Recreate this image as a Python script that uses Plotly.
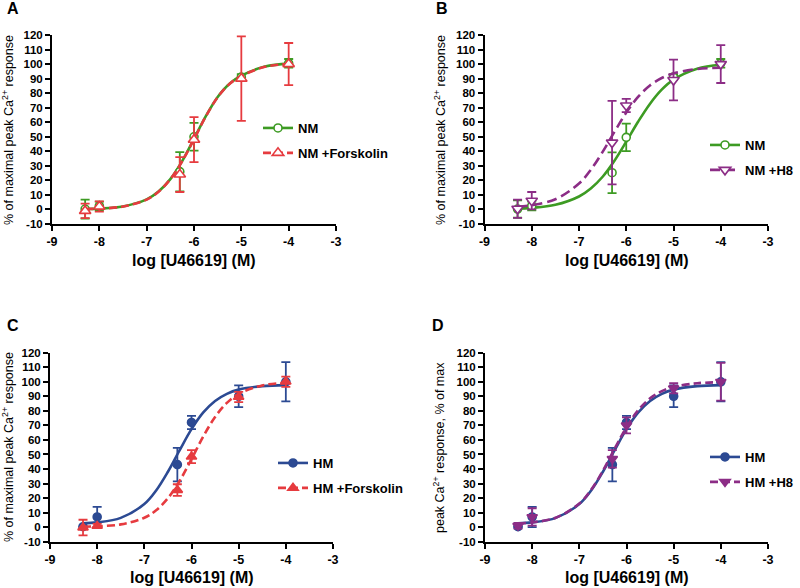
import plotly.graph_objects as go

FONT = "Arial, Liberation Sans, sans-serif"

# ---------------- data ----------------
log_conc = [-8.3, -8.0, -6.3, -6.0, -5.0, -4.0]
fit_x = [-8.3, -8.0, -7.5, -7.0, -6.75, -6.5, -6.25, -6.0, -5.75, -5.5, -5.25, -5.0, -4.5, -4.0]

x_tick_vals = [-9, -8, -7, -6, -5, -4, -3]
x_tick_text = ["-9", "-8", "-7", "-6", "-5", "-4", "-3"]
y_tick_vals = [-10, 0, 10, 20, 30, 40, 50, 60, 70, 80, 90, 100, 110, 120]
y_tick_text = ["-10", "0", "10", "20", "30", "40", "50", "60", "70", "80", "90", "100", "110", "120"]

# Panel A
nm_a_mean = [0.3, 2.4, 26, 50, 91, 100.5]
nm_a_sem = [6.5, 3, 13.5, 9.5, 2, 3]
nm_fsk_mean = [-1, 2, 24, 48, 90, 100]
nm_fsk_sem = [5, 3.5, 12, 15.5, 29, 14.5]
nm_a_fit = [0.3, 0.6, 2.1, 6.9, 12.3, 20.9, 33.3, 48.6, 64.2, 77.4, 86.5, 92.0, 98.3, 100.3]
nm_fsk_fit = [0.3, 0.6, 2.0, 6.8, 12.2, 20.8, 33.1, 48.3, 64.0, 77.2, 86.3, 91.8, 98.1, 100.1]

# Panel B
nm_b_mean = [0.3, 2.4, 25.3, 49.6, 91, 100.5]
nm_b_sem = [6, 3, 14, 9.5, 2, 3]
nm_h8_mean = [0.5, 6, 46, 71.5, 89, 100]
nm_h8_sem = [6.3, 6, 28.7, 4.5, 14, 13]
nm_b_fit = [0.6, 1.1, 3.2, 8.9, 14.4, 22.5, 33.5, 46.6, 60.3, 72.6, 82.4, 89.3, 96.8, 99.5]
nm_h8_fit = [2.0, 3.0, 7.0, 17.8, 27.3, 39.6, 53.4, 66.6, 77.4, 85.3, 90.4, 93.6, 96.6, 97.5]

# Panel C
hm_mean = [0.3, 7, 43, 72, 90, 100]
hm_sem = [0, 7, 11.5, 4.5, 7.5, 13.5]
hm_fsk_mean = [-0.3, 0.8, 25.5, 48.5, 89.5, 100]
hm_fsk_sem = [5.4, 1.5, 4, 4.5, 3.5, 3.5]
hm_c_fit = [2.6, 3.3, 6.4, 15.9, 25.2, 38.1, 53.0, 67.4, 78.9, 86.8, 91.7, 94.6, 97.0, 97.7]
hm_fsk_fit = [0.3, 0.6, 1.9, 6.5, 11.6, 19.9, 31.9, 46.8, 62.4, 75.8, 85.5, 91.7, 97.5, 99.3]

# Panel D
hm_d_mean = [0.3, 7, 43, 72, 90, 100]
hm_d_sem = [0, 7, 11.5, 4.5, 7.5, 13.5]
hm_h8_mean = [1, 7, 47, 70, 95.5, 100]
hm_h8_sem = [2, 6, 6, 5.5, 3.5, 13]
hm_d_fit = [2.6, 3.3, 6.4, 15.9, 25.2, 38.1, 53.0, 67.4, 78.9, 86.8, 91.7, 94.6, 97.0, 97.7]
hm_h8_fit = [2.6, 3.3, 6.5, 16.2, 25.7, 38.8, 54.1, 68.8, 80.5, 88.6, 93.6, 96.5, 99.0, 99.7]

GREEN = "#3d9b23"
RED = "#e63b3f"
PURPLE = "#8c2d86"
BLUE = "#2c4a93"

fig = go.Figure()


def add_series(name, mean, sem, fit, color, symbol, filled, dash, ax, legend, msize):
    xa = "x" if ax == 1 else f"x{ax}"
    ya = "y" if ax == 1 else f"y{ax}"
    fill = color if filled else "white"
    marker = dict(symbol=symbol, size=msize, color=fill, line=dict(color=color, width=1.6))
    line = dict(color=color, width=2.6, dash=dash, shape="spline", smoothing=1)
    # fitted curve
    fig.add_trace(go.Scatter(x=fit_x, y=fit, mode="lines", line=line, xaxis=xa, yaxis=ya,
                             showlegend=False, hoverinfo="skip"))
    # data points with error bars
    fig.add_trace(go.Scatter(x=log_conc, y=mean, mode="markers", marker=marker,
                             error_y=dict(type="data", array=sem, visible=True, color=color,
                                          thickness=1.8, width=4.5),
                             xaxis=xa, yaxis=ya, showlegend=False, name=name))
    # legend entry (line + marker)
    fig.add_trace(go.Scatter(x=[None], y=[None], mode="lines+markers", name=name,
                             marker=marker, line=dict(color=color, width=2.6, dash=dash),
                             xaxis=xa, yaxis=ya, legend=legend, legendgroup=name + legend,
                             showlegend=True))


add_series("NM", nm_a_mean, nm_a_sem, nm_a_fit, GREEN, "circle", False, "solid", 1, "legend", 8)
add_series("NM +Forskolin", nm_fsk_mean, nm_fsk_sem, nm_fsk_fit, RED, "triangle-up", False, "8px,4px", 1, "legend", 10)
add_series("NM", nm_b_mean, nm_b_sem, nm_b_fit, GREEN, "circle", False, "solid", 2, "legend2", 8)
add_series("NM +H8", nm_h8_mean, nm_h8_sem, nm_h8_fit, PURPLE, "triangle-down", False, "10px,5px", 2, "legend2", 10)
add_series("HM", hm_mean, hm_sem, hm_c_fit, BLUE, "circle", True, "solid", 3, "legend3", 8)
add_series("HM +Forskolin", hm_fsk_mean, hm_fsk_sem, hm_fsk_fit, RED, "triangle-up", True, "8px,4px", 3, "legend3", 9)
add_series("HM", hm_d_mean, hm_d_sem, hm_d_fit, BLUE, "circle", True, "solid", 4, "legend4", 8)
add_series("HM +H8", hm_h8_mean, hm_h8_sem, hm_h8_fit, PURPLE, "triangle-down", True, "8px,4px", 4, "legend4", 9)

W, H = 800, 588


def px_x(p):
    return p / W


def px_y(p):
    return 1 - p / H


def xaxis(dom, anchor):
    return dict(domain=dom, anchor=anchor, range=[-9, -3], tickmode="array", automargin=False,
                tickvals=x_tick_vals, ticktext=x_tick_text, showline=True, linecolor="black",
                linewidth=2, ticks="outside", ticklen=5, tickwidth=2, tickcolor="black",
                showgrid=False, zeroline=False,
                tickfont=dict(family=FONT, size=12.5, color="black", weight="bold"))


def yaxis(dom, anchor):
    return dict(domain=dom, anchor=anchor, range=[-10, 120], tickmode="array", automargin=False,
                tickvals=y_tick_vals, ticktext=y_tick_text, showline=True, linecolor="black",
                linewidth=2, ticks="outside", ticklen=5, tickwidth=2, tickcolor="black",
                showgrid=False, zeroline=False,
                tickfont=dict(family=FONT, size=11.5, color="black", weight="bold"))


top_dom = [px_y(224), px_y(35)]
bot_dom = [px_y(541.7), px_y(352.7)]


def legend_cfg(xp, yp):
    return dict(x=px_x(xp), y=px_y(yp), xanchor="left", yanchor="top",
                bgcolor="rgba(0,0,0,0)", tracegroupgap=5, itemwidth=30,
                font=dict(family=FONT, size=13, color="black", weight="bold"))


ylab = "% of maximal peak Ca<sup>2+</sup> response"
annotations = []
for txt, xp, yp in [("A", 13, 9), ("B", 442, 9), ("C", 13, 325), ("D", 438, 325)]:
    annotations.append(dict(text=txt, x=px_x(xp), y=px_y(yp), xref="paper", yref="paper",
                            xanchor="center", yanchor="middle",
                            showarrow=False, font=dict(family=FONT, size=16, color="black", weight="bold")))
for xp, yp in [(194, 260), (627, 260), (192, 577), (627, 577)]:
    annotations.append(dict(text="log [U46619] (M)", x=px_x(xp), y=px_y(yp), xref="paper", yref="paper",
                            xanchor="center", yanchor="middle",
                            showarrow=False, font=dict(family=FONT, size=16, color="black", weight="bold")))
for txt, xp, yp in [(ylab, 8, 130), (ylab, 440, 130), (ylab, 8, 447),
                    ("peak Ca<sup>2+</sup> response, % of max", 439, 447)]:
    annotations.append(dict(text=txt, x=px_x(xp), y=px_y(yp), xref="paper", yref="paper",
                            xanchor="center", yanchor="middle",
                            textangle=-90, showarrow=False,
                            font=dict(family=FONT, size=12.5, color="black")))

fig.update_layout(
    width=W, height=H,
    margin=dict(l=0, r=0, t=0, b=0, autoexpand=False),
    paper_bgcolor="white", plot_bgcolor="white",
    font=dict(family=FONT, color="black"),
    xaxis=xaxis([px_x(52), px_x(336)], "y"),
    yaxis=yaxis(top_dom, "x"),
    xaxis2=xaxis([px_x(484.5), px_x(768)], "y2"),
    yaxis2=yaxis(top_dom, "x2"),
    xaxis3=xaxis([px_x(50), px_x(333)], "y3"),
    yaxis3=yaxis(bot_dom, "x3"),
    xaxis4=xaxis([px_x(485), px_x(768)], "y4"),
    yaxis4=yaxis(bot_dom, "x4"),
    legend=legend_cfg(258, 113),
    legend2=legend_cfg(705, 130),
    legend3=legend_cfg(273, 448),
    legend4=legend_cfg(705, 442),
    annotations=annotations,
)

fig.write_html("out.html", config={"displayModeBar": False},
               post_script="document.body.style.margin='0px';")
